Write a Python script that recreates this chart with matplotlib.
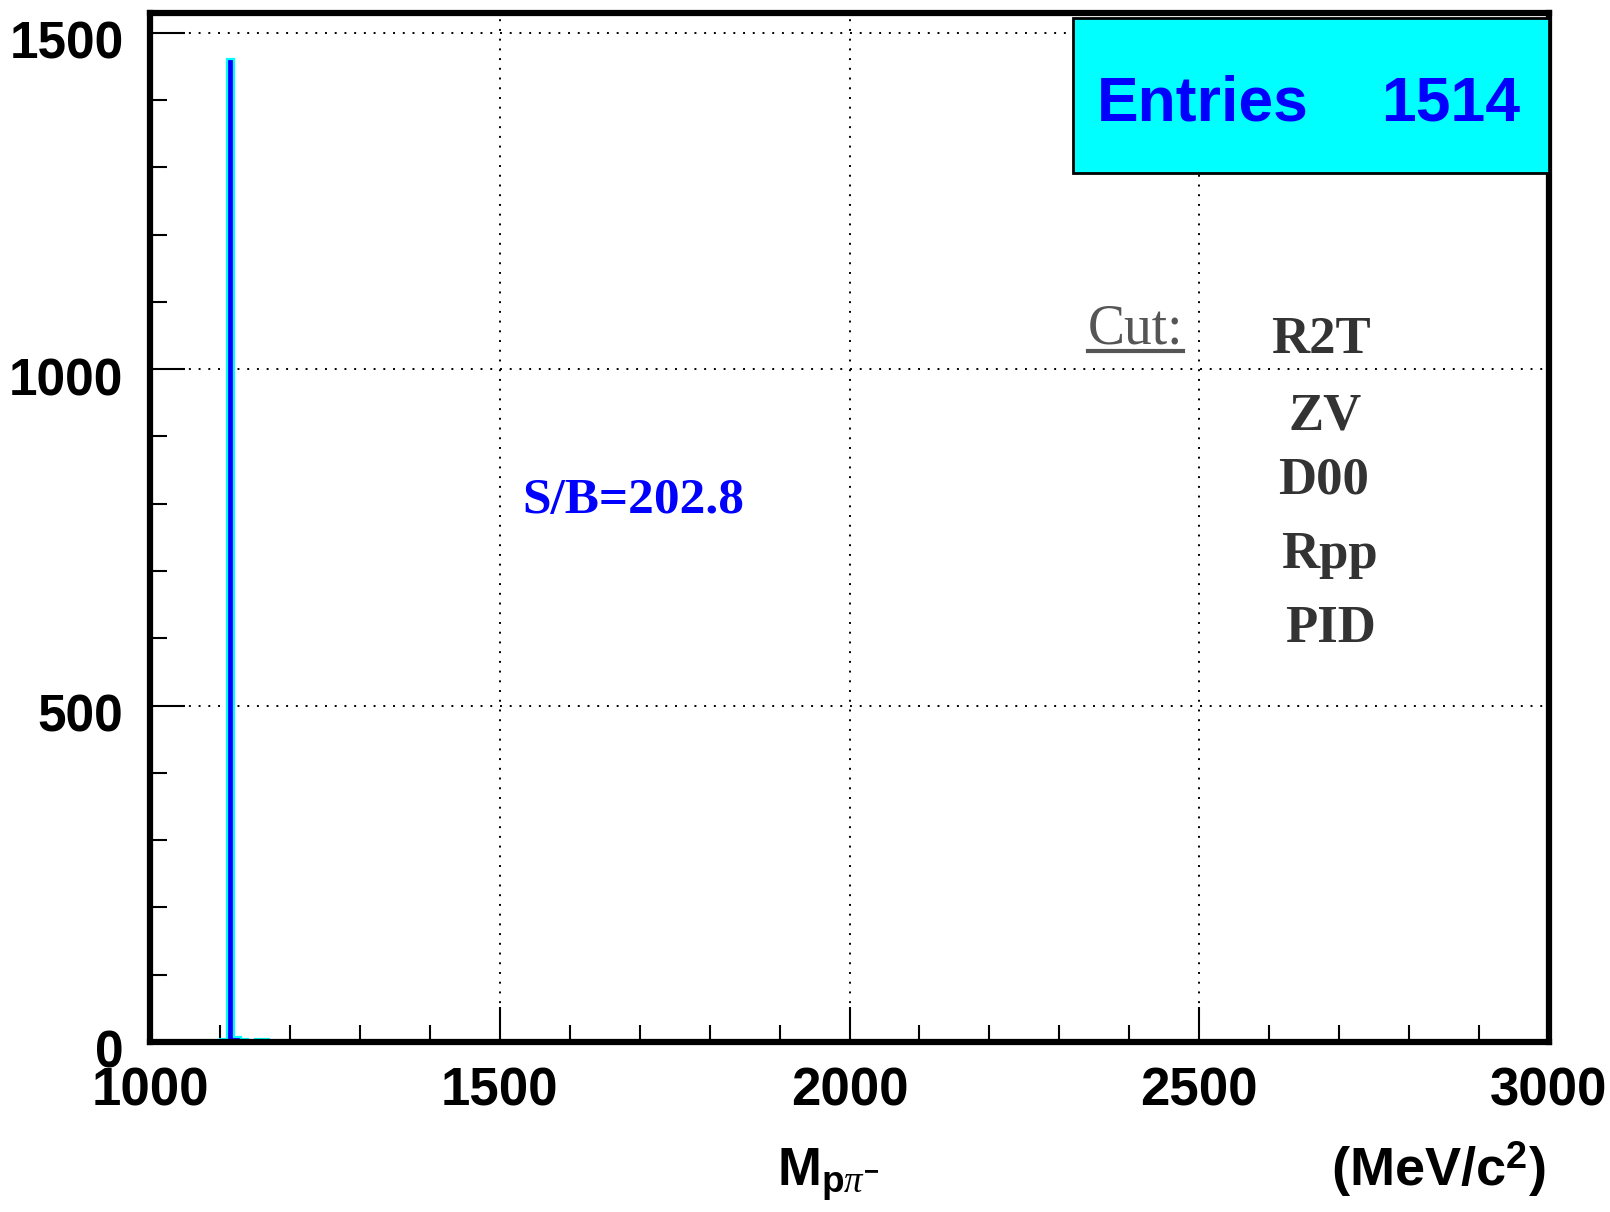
import numpy as np
import matplotlib
matplotlib.use("Agg")
import matplotlib.pyplot as plt
import matplotlib.transforms as mtransforms
from matplotlib.patches import Rectangle
from matplotlib.lines import Line2D

# histogram data (10 MeV bins)
bin_left = [1100, 1110, 1120, 1130, 1150, 1160]
counts = [4, 1461, 8, 5, 4, 4]
entries = 1514
s_over_b = 202.8
cuts = ["R2T", "ZV", "D00", "Rpp", "PID"]

xticks_major = [1000, 1500, 2000, 2500, 3000]
yticks_major = [0, 500, 1000, 1500]

sans = "Liberation Sans"
plt.rcParams["mathtext.fontset"] = "custom"
plt.rcParams["mathtext.rm"] = sans + ":bold"
plt.rcParams["mathtext.bf"] = sans + ":bold"
plt.rcParams["mathtext.it"] = "Liberation Serif:italic"

W, H = 1610, 1212
fig = plt.figure(figsize=(W / 100, H / 100), dpi=100)


def fx(x):
    return x / W


def fy(y):
    return 1 - y / H


ax = fig.add_axes([fx(150), fy(1042), fx(1549) - fx(150), fy(12.5) - fy(1042)])

edges = np.arange(1000, 3001, 10)
ax.hist(bin_left, bins=edges, weights=counts, histtype="stepfilled",
        facecolor="blue", edgecolor="cyan", linewidth=1.6, zorder=3)

ax.set_xlim(1000, 3000)
ax.set_ylim(0, 1530)

for s in ax.spines.values():
    s.set_linewidth(4.5)
    s.set_zorder(6)

ax.set_xticks(xticks_major)
ax.set_xticks(np.arange(1100, 3000, 100), minor=True)
ax.set_yticks(yticks_major)
ax.set_yticks(np.arange(100, 1500, 100), minor=True)
ax.tick_params(which="both", direction="in", width=1.5, top=False, right=False)
ax.tick_params(which="major", length=25)
ax.tick_params(which="minor", length=12)
ax.tick_params(axis="x", which="major", pad=18)
ax.tick_params(axis="y", which="major", pad=19)

for lab in ax.get_xticklabels():
    lab.set_fontfamily(sans)
    lab.set_fontweight("bold")
    lab.set_fontsize(38)
shift = mtransforms.ScaledTranslation(0, -7 / 100, fig.dpi_scale_trans)
for lab in ax.get_yticklabels():
    lab.set_fontfamily(sans)
    lab.set_fontweight("bold")
    lab.set_fontsize(37)
    lab.set_verticalalignment("center_baseline")
    lab.set_transform(lab.get_transform() + shift)

ax.grid(True, which="major", color="black", linestyle=(0, (1, 4)), linewidth=1.4)
ax.set_axisbelow(True)

# stats box
box = Rectangle((fx(1073), fy(173)), fx(1549) - fx(1073), fy(18) - fy(173),
                transform=fig.transFigure, facecolor="cyan", edgecolor="black",
                linewidth=2, zorder=7)
fig.patches.append(box)
fig.text(fx(1097), fy(104), "Entries", color="blue", fontfamily=sans,
         fontweight="bold", fontsize=45, ha="left", va="center", zorder=8)
fig.text(fx(1520), fy(104), str(entries), color="blue", fontfamily=sans,
         fontweight="bold", fontsize=45, ha="right", va="center", zorder=8)

# S/B label
fig.text(fx(522), fy(513), "S/B=%.1f" % s_over_b, color="blue",
         fontfamily="Liberation Serif", fontweight="bold", fontsize=37,
         ha="left", va="baseline")

# cut list
fig.text(fx(1088), fy(343), "Cut:", color="#555555",
         fontfamily="Liberation Serif", fontsize=40, ha="left", va="baseline")
fig.lines.append(Line2D([fx(1088), fx(1183)], [fy(351), fy(351)],
                        transform=fig.transFigure, color="#555555", linewidth=3))
cut_x = [1321, 1325, 1323, 1329, 1330]
cut_y = [353, 430, 493, 568, 642]
for name, cx, cy in zip(cuts, cut_x, cut_y):
    fig.text(fx(cx), fy(cy), name, color="#333333",
             fontfamily="Liberation Serif", fontweight="bold", fontsize=38,
             ha="center", va="baseline")

# axis labels
fig.text(fx(777), fy(1186), r"M$_{\mathrm{p}\pi^{-}}$", fontfamily=sans,
         fontweight="bold", fontsize=38, ha="left", va="baseline")
fig.text(fx(1546), fy(1186), r"(MeV/c$^{2}$)", fontfamily=sans,
         fontweight="bold", fontsize=39, ha="right", va="baseline")

fig.savefig("out.png", dpi=100)
